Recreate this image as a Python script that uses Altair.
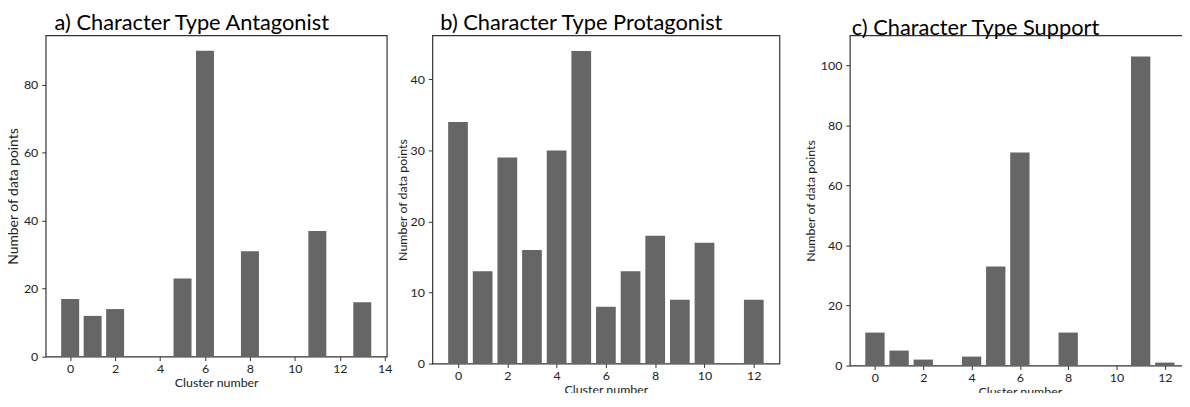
import altair as alt
import pandas as pd

# ---- data ----
ant_clusters = [0, 1, 2, 5, 6, 8, 11, 13]
ant_counts = [17, 12, 14, 23, 90, 31, 37, 16]

pro_clusters = [0, 1, 2, 3, 4, 5, 6, 7, 8, 9, 10, 12]
pro_counts = [34, 13, 29, 16, 30, 44, 8, 13, 18, 9, 17, 9]

sup_clusters = [0, 1, 2, 4, 5, 6, 8, 11, 12]
sup_counts = [11, 5, 2, 3, 33, 71, 11, 103, 1]

titles = ["a) Character Type Antagonist",
          "b) Character Type Protagonist",
          "c) Character Type Support"]

ant_xticks = [0, 2, 4, 6, 8, 10, 12, 14]
pro_xticks = [0, 2, 4, 6, 8, 10, 12]
sup_xticks = [0, 2, 4, 6, 8, 10, 12]

ant_yticks = [0, 20, 40, 60, 80]
pro_yticks = [0, 10, 20, 30, 40]
sup_yticks = [0, 20, 40, 60, 80, 100]

x_title = "Cluster number"
y_title = "Number of data points"

BAR = "#666666"
FONT = "Lato"


def panel(clusters, counts, title, xdom, ymax, xticks, yticks, w, h, tdx, toff,
          ytfs, ytpad):
    df = pd.DataFrame({"cluster": clusters, "count": counts})
    return (
        alt.Chart(df)
        .transform_calculate(x0="datum.cluster - 0.4", x1="datum.cluster + 0.4")
        .mark_bar(color=BAR)
        .encode(
            x=alt.X("x0:Q",
                    scale=alt.Scale(domain=xdom, nice=False, zero=False),
                    axis=alt.Axis(values=xticks, title=x_title, format="d")),
            x2="x1:Q",
            y=alt.Y("count:Q",
                    scale=alt.Scale(domain=[0, ymax], nice=False),
                    axis=alt.Axis(values=yticks, title=y_title, format="d",
                                  titleFontSize=ytfs, titlePadding=ytpad)),
            y2=alt.datum(0),
        )
        .properties(
            width=w, height=h,
            title=alt.TitleParams(title, anchor="start", frame="group", dx=tdx,
                                  offset=toff, baseline="bottom",
                                  fontSize=22, font=FONT, fontWeight="normal",
                                  color="#000000"),
        )
    )


a = panel(ant_clusters, ant_counts, titles[0], [-1.09, 14.09], 94.5,
          ant_xticks, ant_yticks, 344, 324, 9, -22, 14, 3)
b = panel(pro_clusters, pro_counts, titles[1], [-1.04, 13.04], 46.2,
          pro_xticks, pro_yticks, 350, 331, 8, -22, 12.5, 1)
c = panel(sup_clusters, sup_counts, titles[2], [-1.04, 13.04], 110.0,
          sup_xticks, sup_yticks, 343, 333, 2, -27, 12.5, 3)

ab = alt.hconcat(a, b, spacing=2)
chart = (
    alt.hconcat(ab, c, spacing=23)
    .properties(padding={"top": 2, "left": -3, "right": -9, "bottom": -8})
    .configure_view(stroke="#333333", strokeWidth=1.2)
    .configure_axis(
        grid=False, domain=False,
        tickSize=4, tickColor="#333333",
        labelFont=FONT, labelFontSize=12.5, labelColor="#222222", labelPadding=4,
        titleFont=FONT, titleFontSize=12.5, titleFontWeight="normal",
        titleColor="#222222", titlePadding=3,
    )
    .configure_axisX(labelPadding=2, titlePadding=2)
)

chart.save("out.html", embed_options={"renderer": "svg", "actions": False})
